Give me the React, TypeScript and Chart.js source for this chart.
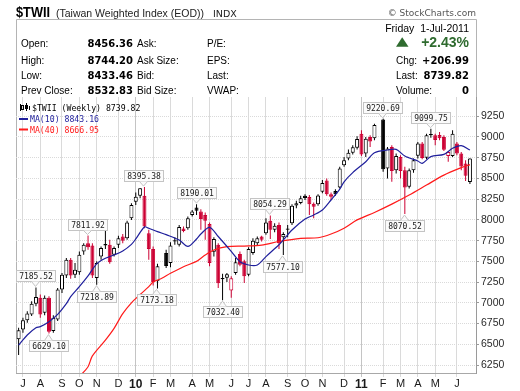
import React, { useEffect, useRef } from 'react';
import { Chart, registerables } from 'chart.js';

Chart.register(...registerables);

// ---- weekly candles (index 0 = week of 3-Jul-2009 ... 104 = week of 1-Jul-2011); null = holiday week
const candleTypes: (string | null)[] = [
  'w','w','w','w','w','r','w','r','w','w',
  'w','w','r','w','w','w','r','r','w','w',
  'b','r','w','w','r','w','w','w','w','r',
  'r','r','w',null,'b','w','b','w','r','w',
  'w','b','r','r','r','w','r','b','w','rh',
  'w','r','r','w','w','w','r','w','r','w',
  'r','w','b','w','w','w','b','r','r','w',
  'w','r','r','b','w','w','w','w','w','r',
  'w','r','w',null,'b','w','r','w','r','r',
  'w','w','w','r','w','b','r','r','r','rh',
  'w','r','r','r','w',
];
const opens: (number | null)[] = [
  6560,6680,6790,6860,6990,7060,6880,7060,6660,6800,
  7160,7330,7520,7340,7370,7620,7720,7690,7300,7560,
  7710,7700,7580,7700,7800,7780,8020,8220,8292,8290,
  7840,7650,7260,null,7600,7480,7755,7700,7895,7900,
  8060,8150,8100,8060,7950,7615,7700,7300,7303,7150,
  7360,7590,7500,7340,7600,7720,7800,7840,7990,7880,
  7940,7790,7895,7960,8175,8205,8290,8275,8195,8190,
  8340,8475,8310,8350,8390,8660,8740,8810,8870,9040,
  8800,9000,8985,null,9210,8620,8880,8600,8760,8600,
  8400,8600,8775,8920,8750,9035,9020,9025,9000,8770,
  8770,8920,8800,8680,8456.36,
];
const highs: (number | null)[] = [
  6700,6820,6900,7020,7185.52,7100,7090,7080,6850,7180,
  7360,7540,7540,7480,7620,7720,7811.92,7720,7500,7680,
  7870,7760,7680,7810,7830,7990,8200,8330,8385,8395.38,
  7880,7680,7470,null,7640,7730,7790,7940,7920,8040,
  8120,8190.01,8130,8090,7970,7790,7720,7350,7360,7320,
  7540,7620,7520,7670,7780,7800,7810,8020,8054.29,7960,
  7970,7850,7940,8190,8230,8290,8310,8300,8210,8310,
  8480,8500,8330,8370,8640,8760,8850,8900,9010,9080,
  9000,9020,9160,null,9220.69,8880,8900,8800,8780,8640,
  8620,8740,8940,8940,9040,9099.75,9040,9060,9020,8830,
  9080,8940,8820,8720,8744.20,
];
const lows: (number | null)[] = [
  6370,6640,6760,6840,6960,6820,6850,6629.10,6640,6780,
  7120,7300,7290,7300,7340,7580,7640,7300,7218.89,7520,
  7650,7470,7560,7660,7720,7760,8000,8180,8260,7900,
  7520,7210,7173.18,null,7420,7430,7700,7680,7850,7880,
  8040,8060,7880,7760,7440,7560,7180,7032.40,7250,7060,
  7340,7440,7240,7320,7580,7690,7740,7820,7770,7850,
  7650,7577.10,7790,7940,8140,8190,8240,8060,8020,8170,
  8320,8290,8240,8290,8380,8640,8720,8790,8850,8770,
  8760,8880,8960,null,8580,8500,8460,8560,8500,8070.52,
  8380,8570,8740,8730,8730,8990,8900,8960,8830,8700,
  8760,8780,8600,8470,8433.46,
];
const closes: (number | null)[] = [
  6670,6790,6870,6990,7070,6860,7060,6650,6820,7160,
  7340,7520,7330,7400,7580,7700,7670,7330,7480,7660,
  7690,7490,7660,7780,7750,7970,8180,8280,8381,7920,
  7650,7250,7440,null,7445,7690,7740,7915,7865,8020,
  8100,8110,8010,7990,7480,7770,7236,7284,7345,7295,
  7490,7460,7320,7650,7750,7780,7760,7970,7880,7930,
  7720,7830,7880,8170,8200,8260,8265,8190,8160,8295,
  8445,8310,8280,8310,8620,8720,8810,8875,8975,8790,
  8980,8945,9145,null,8610,8860,8590,8770,8590,8390,
  8600,8720,8920,8745,9020,9022,8965,8985,8845,8820,
  9040,8800,8645,8532.83,8739.82,
];

// ---- moving averages (week index, value)
const ma10Idx = [0,2,4,5,7,9,11,12,14,16,18,20,22,24,26,27,29,30,32,34,37,39,41,42,44,46,49,51,53,55,57,60,61,63,66,68,70,72,74,75,77,80,82,85,87,89,92,93,95,98,100,102,104];
const ma10Vals = [6490,6612,6700,6713,6773,6860,6990,7074,7195,7325,7470,7537,7577,7625,7705,7770,7915,7899,7858,7822,7758,7680,7770,7830,7910,7800,7620,7496,7456,7456,7557,7700,7758,7878,8010,8059,8119,8240,8370,8460,8570,8702,8810,8843,8851,8770,8710,8682,8763,8790,8863,8895,8843.16];
const ma40Idx = [14,16,17,20,22,24,26,28,30,31,33,35,38,41,43,45,48,52,56,60,65,69,72,75,78,82,86,90,94,98,102,104];
const ma40Vals = [6110,6230,6360,6550,6692,6870,7000,7100,7195,7250,7296,7356,7436,7500,7577,7637,7677,7685,7697,7740,7778,7785,7830,7900,8000,8090,8190,8300,8420,8540,8630,8666.95];

// ---- axes
const monthTickIdx = [1,5,10,14,18,23,27,31,35,40,44,49,53,57,62,66,70,75,79,84,88,92,96,101];
const monthTickLabels = ['J','A','S','O','N','D','10','F','M','A','M','J','J','A','S','O','N','D','11','F','M','A','M','J'];
const priceTicks = [6250,6500,6750,7000,7250,7500,7750,8000,8250,8500,8750,9000,9250];

// ---- high/low callouts
const labelIdx = [4,7,16,18,29,32,41,47,58,61,84,89,95];
const labelVals = [7185.52,6629.10,7811.92,7218.89,8395.38,7173.18,8190.01,7032.40,8054.29,7577.10,9220.69,8070.52,9099.75];
const labelSide = ['above','below','above','below','above','below','above','below','above','below','above','below','above'];

// ---- header texts
const headerLeftLabels = ['Open:', 'High:', 'Low:', 'Prev Close:'];
const headerLeftValues = ['8456.36', '8744.20', '8433.46', '8532.83'];
const headerMidLabels = ['Ask:', 'Ask Size:', 'Bid:', 'Bid Size:'];
const headerRightLabels = ['P/E:', 'EPS:', 'Last:', 'VWAP:'];
const quoteLabels = ['Chg:', 'Last:', 'Volume:'];
const quoteValues = ['+206.99', '8739.82', '0'];
const legendTexts = ['$TWII (Weekly) 8739.82', 'MA(10) 8843.16', 'MA(40) 8666.95'];

const RED = '#cc0033';
const BLUE = '#1f1f9c';
const MA40C = '#ff1a1a';
const GREEN = '#2f6b2f';
const SANS = '"Liberation Sans", Arial, sans-serif';
const DEJA = '"DejaVu Sans", Verdana, sans-serif';
const MONO = '"DejaVu Sans Mono", monospace';

function bodyFill(t: string) { return t === 'r' ? RED : t === 'b' ? '#000' : '#fff'; }
function bodyStroke(t: string) { return t === 'r' || t === 'rh' ? RED : '#000'; }

function drawHeader(ctx: CanvasRenderingContext2D) {
  ctx.save();
  ctx.fillStyle = '#fff';
  ctx.fillRect(0, 0, 520, 391);
  ctx.textBaseline = 'alphabetic';
  // title
  ctx.save();
  ctx.translate(16, 17);
  ctx.scale(0.85, 1);
  ctx.font = 'bold 15px ' + SANS;
  ctx.fillStyle = '#000';
  ctx.fillText('$TWII', 0, 0);
  ctx.restore();
  ctx.font = '10.5px ' + SANS;
  ctx.fillStyle = '#222';
  ctx.fillText('(Taiwan Weighted Index (EOD))', 56, 16.5);
  ctx.font = '9.5px ' + DEJA;
  ctx.fillText('INDX', 213, 16.5);
  ctx.font = '9px ' + DEJA;
  ctx.fillStyle = '#555';
  ctx.textAlign = 'right';
  ctx.fillText('\u00A9 StockCharts.com', 476, 15.5);
  // box
  ctx.strokeStyle = '#b4b4b4';
  ctx.lineWidth = 1;
  ctx.beginPath();
  ctx.moveTo(16.5, 373); ctx.lineTo(16.5, 19.5); ctx.lineTo(476.5, 19.5); ctx.lineTo(476.5, 97);
  ctx.stroke();
  // left table
  const rows = [47, 63.5, 79, 94];
  rows.forEach((yy, k) => {
    ctx.textAlign = 'left';
    ctx.fillStyle = '#000';
    ctx.font = '10px ' + SANS;
    ctx.fillText(headerLeftLabels[k], 21, yy);
    ctx.fillText(headerMidLabels[k], 137, yy);
    ctx.fillText(headerRightLabels[k], 207, yy);
    ctx.textAlign = 'right';
    ctx.font = 'bold 10px ' + DEJA;
    ctx.fillText(headerLeftValues[k], 133, yy);
  });
  // right quote block
  ctx.textAlign = 'right';
  ctx.font = '10.5px ' + SANS;
  ctx.fillStyle = '#000';
  ctx.fillText('Friday  1-Jul-2011', 469, 31.5);
  ctx.fillStyle = GREEN;
  ctx.beginPath();
  ctx.moveTo(396, 46.7); ctx.lineTo(408.5, 46.7); ctx.lineTo(402.2, 37.3); ctx.closePath();
  ctx.fill();
  ctx.font = 'bold 14px ' + SANS;
  ctx.fillText('+2.43%', 469, 46.7);
  [63.5, 79, 94].forEach((yy, k) => {
    ctx.fillStyle = '#000';
    ctx.textAlign = 'left';
    ctx.font = '10px ' + SANS;
    ctx.fillText(quoteLabels[k], 396, yy);
    ctx.textAlign = 'right';
    ctx.font = 'bold 10px ' + DEJA;
    ctx.fillText(quoteValues[k], 469, yy);
  });
  ctx.restore();
}

function drawLegend(ctx: CanvasRenderingContext2D) {
  ctx.save();
  // small candle icon
  ctx.fillStyle = '#000';
  ctx.strokeStyle = '#000';
  ctx.lineWidth = 1;
  ctx.fillRect(20, 104, 1, 7);
  ctx.strokeRect(21.5, 105.5, 2, 4);
  ctx.fillRect(26, 103, 1, 8);
  ctx.fillRect(25, 105, 3, 4);
  ctx.fillRect(29, 106, 1, 4);
  ctx.font = '8.2px ' + MONO;
  ctx.textBaseline = 'alphabetic';
  ctx.textAlign = 'left';
  ctx.fillText(legendTexts[0], 32, 110.5);
  ctx.fillStyle = BLUE;
  ctx.fillRect(19, 118, 9, 2);
  ctx.fillText(legendTexts[1], 30, 122);
  ctx.fillStyle = MA40C;
  ctx.fillRect(19, 128.5, 9, 2);
  ctx.fillText(legendTexts[2], 30, 132.5);
  ctx.restore();
}

function drawCallouts(chart: any) {
  const { ctx } = chart;
  const xs = chart.scales.x;
  const ys = chart.scales.y;
  ctx.save();
  ctx.font = '8px ' + MONO;
  ctx.lineWidth = 1;
  labelIdx.forEach((i, k) => {
    const v = labelVals[k];
    const above = labelSide[k] === 'above';
    const text = v.toFixed(2);
    const w = Math.round(ctx.measureText(text).width) + 5;
    const h = 11;
    const cx = Math.round(xs.getPixelForValue(i)) - 0.5;
    const py = ys.getPixelForValue(v);
    const left = Math.round(cx - w / 2) + 0.5;
    const top = above ? Math.round(py - 6 - h) + 0.5 : Math.round(py + 6) + 0.5;
    ctx.fillStyle = '#fbfbfb';
    ctx.strokeStyle = '#c4c4c4';
    ctx.fillRect(left, top, w, h);
    ctx.strokeRect(left, top, w, h);
    ctx.beginPath();
    if (above) {
      const by = top + h;
      ctx.moveTo(cx - 4, by); ctx.lineTo(cx, py - 1); ctx.lineTo(cx + 4, by);
    } else {
      ctx.moveTo(cx - 4, top); ctx.lineTo(cx, py + 1); ctx.lineTo(cx + 4, top);
    }
    ctx.fillStyle = '#fbfbfb';
    ctx.fill();
    ctx.stroke();
    ctx.fillStyle = '#1a1a1a';
    ctx.textAlign = 'center';
    ctx.textBaseline = 'middle';
    ctx.fillText(text, left + w / 2, top + h / 2 + 0.5);
  });
  ctx.restore();
}

const overlayPlugin = {
  id: 'overlay',
  beforeDraw(chart: any) { drawHeader(chart.ctx); },
  afterDraw(chart: any) { drawLegend(chart.ctx); drawCallouts(chart); },
};

export default function App() {
  const ref = useRef<HTMLCanvasElement>(null);
  useEffect(() => {
    const canvas = ref.current;
    if (!canvas) return;
    const idx: number[] = [];
    candleTypes.forEach((t, i) => { if (t) idx.push(i); });
    const bodies = idx.map((i) => ({ x: i, y: [opens[i] as number, closes[i] as number] }));
    const wicks = idx.map((i) => ({ x: i, y: [lows[i] as number, highs[i] as number] }));
    const fills = idx.map((i) => bodyFill(candleTypes[i] as string));
    const strokes = idx.map((i) => bodyStroke(candleTypes[i] as string));

    const chart = new Chart(canvas, {
      type: 'bar',
      data: {
        datasets: [
          {
            type: 'line', label: 'MA10', order: 0,
            data: ma10Idx.map((x, k) => ({ x, y: ma10Vals[k] })),
            borderColor: BLUE, borderWidth: 1.2, pointRadius: 0, tension: 0.3, fill: false,
          } as any,
          {
            type: 'line', label: 'MA40', order: 0,
            data: ma40Idx.map((x, k) => ({ x, y: ma40Vals[k] })),
            borderColor: MA40C, borderWidth: 1.2, pointRadius: 0, tension: 0.3, fill: false,
          } as any,
          {
            type: 'bar', label: 'body', order: 1,
            data: bodies as any,
            backgroundColor: fills, borderColor: strokes, borderWidth: 1,
            borderSkipped: false, barThickness: 4, grouped: false, inflateAmount: 0,
          } as any,
          {
            type: 'bar', label: 'wick', order: 2,
            data: wicks as any,
            backgroundColor: strokes, borderWidth: 0,
            barThickness: 1, grouped: false, inflateAmount: 0,
          } as any,
        ],
      },
      options: {
        animation: false,
        responsive: false,
        layout: { padding: { top: 97, left: 16, right: 0, bottom: 0 } },
        plugins: { legend: { display: false }, tooltip: { enabled: false } },
        scales: {
          x: {
            type: 'linear', min: -0.6, max: 105.4, offset: false,
            afterBuildTicks: (s: any) => { s.ticks = monthTickIdx.map((v) => ({ value: v })); },
            afterFit: (s: any) => { s.height = 18; s.paddingLeft = 0; s.paddingRight = 0; },
            ticks: {
              autoSkip: false, maxRotation: 0, minRotation: 0, padding: 0, color: '#1a1a1a',
              callback: (v: any) => { const k = monthTickIdx.indexOf(Number(v)); return k >= 0 ? monthTickLabels[k] : ''; },
              font: (c: any) => {
                const lab = monthTickLabels[c.index];
                return lab === '10' || lab === '11'
                  ? { family: SANS, size: 12, weight: 'bold' }
                  : { family: SANS, size: 11 };
              },
            },
            grid: {
              offset: false, tickLength: 4,
              color: (c: any) => {
                const lab = monthTickLabels[c.index];
                return lab === '10' || lab === '11' ? '#c4c4c4' : '#dadada';
              },
            },
            border: { display: true, color: '#a8a8a8' },
          } as any,
          y: {
            type: 'linear', position: 'right', min: 6154, max: 9482,
            afterBuildTicks: (s: any) => { s.ticks = priceTicks.map((v) => ({ value: v })); },
            afterFit: (s: any) => { s.width = 44; s.paddingTop = 0; s.paddingBottom = 0; },
            ticks: {
              padding: 2, color: '#2a2a2a', font: { family: SANS, size: 10.5 },
              callback: (v: any) => String(v),
            },
            grid: { color: '#dadada', tickLength: 3, tickColor: '#9a9a9a' },
            border: { display: true, color: '#9a9a9a', dash: [1, 1] },
          } as any,
        },
      },
      plugins: [overlayPlugin],
    } as any);
    return () => chart.destroy();
  }, []);
  return (
    <div style={{ position: 'absolute', left: 0, top: 0, width: 520, height: 391, background: '#fff' }}>
      <canvas ref={ref} width={520} height={391} style={{ display: 'block' }} />
    </div>
  );
}
